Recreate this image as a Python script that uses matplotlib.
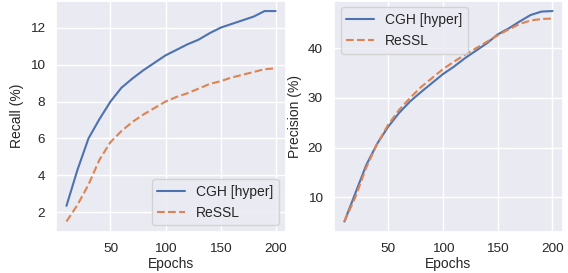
import matplotlib
matplotlib.use("Agg")
import matplotlib.pyplot as plt
import seaborn as sns

sns.set_theme(style="darkgrid")
plt.rcParams['font.family'] = ['Liberation Sans', 'DejaVu Sans']

epochs = [10, 20, 30, 40, 50, 60, 70, 80, 90, 100,
          110, 120, 130, 140, 150, 160, 170, 180, 190, 200]

# recall (%)
recall_cgh = [2.35, 4.3, 6.0, 7.05, 8.0, 8.75, 9.25, 9.7, 10.1, 10.5,
              10.8, 11.1, 11.35, 11.7, 12.0, 12.2, 12.4, 12.6, 12.9, 12.9]
recall_ressl = [1.5, 2.4, 3.5, 4.85, 5.8, 6.4, 6.9, 7.3, 7.65, 8.0,
                8.25, 8.45, 8.7, 8.95, 9.1, 9.3, 9.45, 9.6, 9.75, 9.8]

# precision (%)
prec_cgh = [5.1, 10.8, 16.5, 20.8, 24.2, 27.0, 29.3, 31.2, 33.0, 34.8,
            36.3, 38.0, 39.5, 41.0, 42.8, 44.0, 45.4, 46.7, 47.4, 47.5]
prec_ressl = [5.1, 10.0, 16.0, 20.8, 24.6, 27.6, 30.0, 32.2, 34.0, 35.8,
              37.3, 38.7, 40.0, 41.3, 42.6, 43.8, 44.9, 45.6, 45.9, 46.0]

fig = plt.figure(figsize=(5.68, 2.73), dpi=100)
ax1 = fig.add_axes([0.0986, 0.150, 0.405, 0.848])
ax2 = fig.add_axes([0.588, 0.150, 0.403, 0.848])

fs = 10

ax1.plot(epochs, recall_cgh, label="CGH [hyper]", lw=1.5)
ax1.plot(epochs, recall_ressl, "--", label="ReSSL", lw=1.5)
ax1.set_xlabel("Epochs", fontsize=fs, labelpad=1)
ax1.set_ylabel("Recall (%)", fontsize=fs)
ax1.set_xticks([50, 100, 150, 200])
ax1.set_yticks([2, 4, 6, 8, 10, 12])
ax1.tick_params(labelsize=fs - 0.3, pad=2)
ax1.legend(loc="lower right", fontsize=fs)

ax2.plot(epochs, prec_cgh, label="CGH [hyper]", lw=1.5)
ax2.plot(epochs, prec_ressl, "--", label="ReSSL", lw=1.5)
ax2.set_xlabel("Epochs", fontsize=fs, labelpad=1)
ax2.set_ylabel("Precision (%)", fontsize=fs)
ax2.set_xticks([50, 100, 150, 200])
ax2.set_yticks([10, 20, 30, 40])
ax2.tick_params(labelsize=fs - 0.3, pad=2)
ax2.legend(loc="upper left", fontsize=fs)

fig.savefig("out.png", dpi=100)
